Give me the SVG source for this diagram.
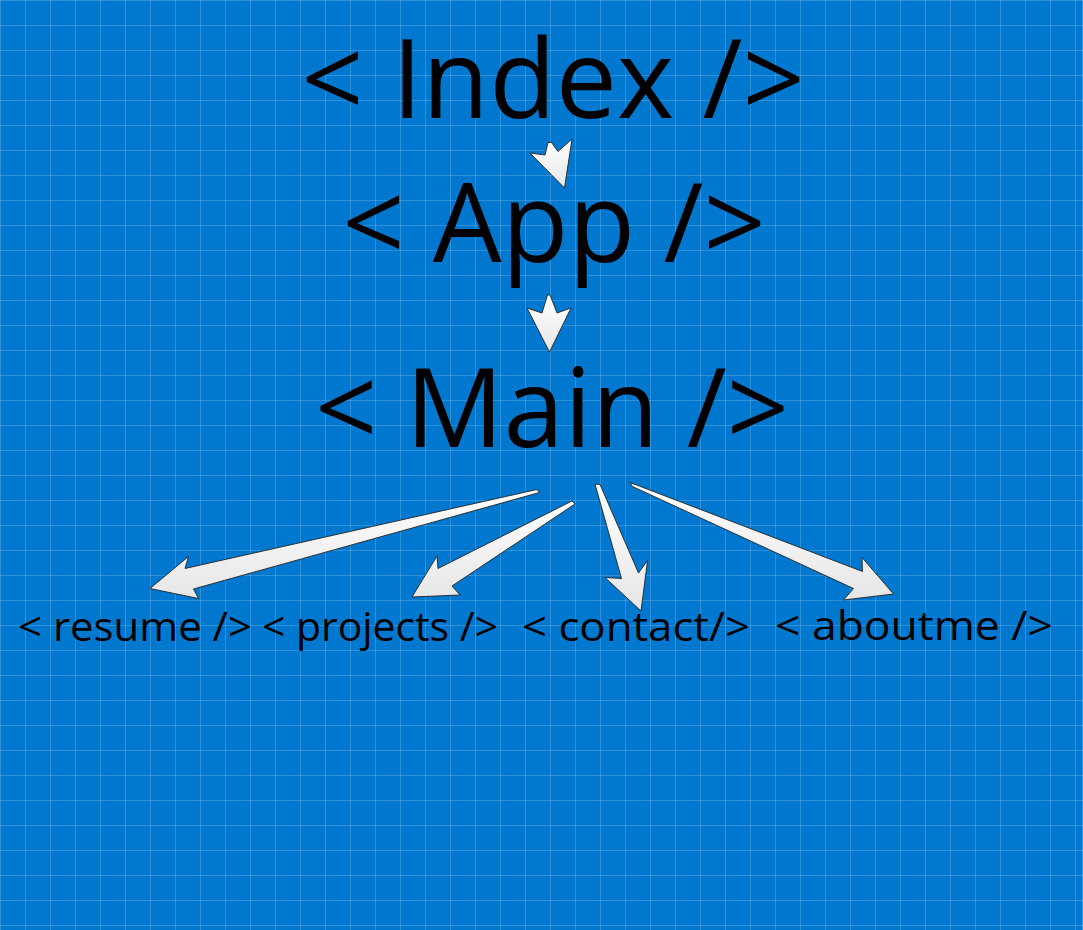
<svg xmlns="http://www.w3.org/2000/svg" width="1083" height="930" viewBox="0 0 1083 930">
  <style>
    .big { font-family: "Open Sans", "Noto Sans", sans-serif; font-size: 109px; fill: #000; text-anchor: middle; }
    .small { font-family: "Open Sans", "Noto Sans", sans-serif; font-size: 40px; fill: #000; text-anchor: middle; }
    .arrow { fill: url(#arrowFill); stroke: #222; stroke-width: 0.9; stroke-linejoin: miter; }
  </style>
  <defs>
    <pattern id="grid" width="25" height="25" patternUnits="userSpaceOnUse">
      <rect x="0" y="0" width="1" height="25" fill="#ffffff" fill-opacity="0.18"/>
      <rect x="0" y="0" width="25" height="1" fill="#ffffff" fill-opacity="0.18"/>
    </pattern>
    <linearGradient id="arrowFill" x1="0" y1="0" x2="0" y2="1">
      <stop offset="0" stop-color="#ffffff"/>
      <stop offset="1" stop-color="#e6e6e6"/>
    </linearGradient>
  </defs>

  <!-- blueprint background -->
  <rect width="1083" height="930" fill="#0178D0"/>
  <rect width="1083" height="930" fill="url(#grid)"/>
  <rect x="1082" y="0" width="1" height="930" fill="#ffffff" fill-opacity="0.25"/>

  <!-- component nodes -->
  <g id="node-index"><text class="big" x="553" y="118">&lt; Index /&gt;</text></g>
  <g id="node-app"><text class="big" x="554" y="262">&lt; App /&gt;</text></g>
  <g id="node-main"><text class="big" x="552" y="447">&lt; Main /&gt;</text></g>
  <g id="node-resume"><text class="small" x="135" y="641" textLength="234" lengthAdjust="spacingAndGlyphs">&lt; resume /&gt;</text></g>
  <g id="node-projects"><text class="small" x="380" y="641" textLength="236" lengthAdjust="spacingAndGlyphs">&lt; projects /&gt;</text></g>
  <g id="node-contact"><text class="small" x="636" y="641" textLength="228" lengthAdjust="spacingAndGlyphs">&lt; contact/&gt;</text></g>
  <g id="node-aboutme"><text class="small" x="914" y="640" textLength="278" lengthAdjust="spacingAndGlyphs">&lt; aboutme /&gt;</text></g>

  <!-- tapered arrows -->
  <g id="connectors">
    <polygon class="arrow" points="548,142.5 551.5,142.5 558,151.5 572,139 564.5,188 530,153 545,155"/>
    <polygon class="arrow" points="547.5,295 550,295 557,313 571,308 549.5,352 527,308 542,313"/>
    <polygon class="arrow" points="537,489.5 539.5,492.5 193.5,589 198.5,598.5 150,588.5 188.5,556.5 185,568.5"/>
    <polygon class="arrow" points="572,501 575,504 452,586 460,595 412,597 437,556 438,568.5"/>
    <polygon class="arrow" points="595,484 600,484.5 638.5,573 647.5,560.5 641,611 605,577.5 621.5,578.5"/>
    <polygon class="arrow" points="630,482.5 632.5,486.5 853.5,588.5 843.5,600 893.5,594 862,557.5 862.5,571.5"/>
  </g>
</svg>
